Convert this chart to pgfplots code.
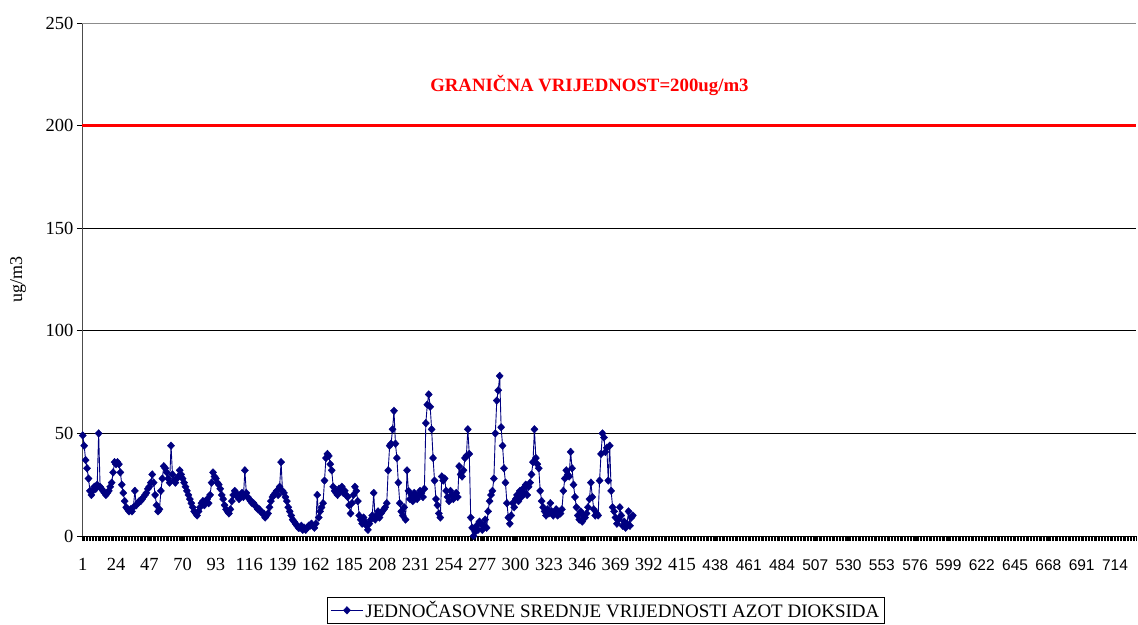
\documentclass[border=0pt]{standalone}
\usepackage{fontspec}
\setmainfont{Liberation Serif}
\newfontfamily\tickssans{Liberation Sans}
\usepackage{pgfplots}
\usepackage{pgfplotstable}
\pgfplotsset{compat=1.18}
\definecolor{navyc}{HTML}{000080}
\pgfplotstableread[row sep=\\]{
v\\
49\\44\\37\\33\\28\\22\\20\\22\\24\\23\\
25\\50\\24\\23\\22\\21\\20\\21\\22\\24\\
26\\31\\36\\35\\36\\35\\31\\25\\21\\17\\
14\\13\\12\\13\\12\\14\\22\\15\\16\\17\\
17\\18\\19\\20\\21\\23\\24\\26\\30\\26\\
20\\15\\12\\13\\22\\28\\34\\33\\31\\28\\
26\\44\\30\\27\\26\\28\\29\\32\\30\\28\\
26\\24\\22\\20\\18\\16\\14\\12\\11\\10\\
12\\14\\16\\17\\15\\17\\18\\16\\20\\26\\
31\\29\\28\\26\\25\\23\\20\\18\\15\\13\\
12\\11\\13\\17\\20\\22\\21\\19\\18\\20\\
21\\19\\32\\21\\19\\18\\17\\16\\16\\15\\
14\\13\\13\\12\\11\\11\\9\\10\\11\\14\\
17\\19\\20\\21\\22\\20\\24\\36\\22\\21\\
19\\17\\14\\12\\10\\8\\7\\6\\5\\4\\
4\\5\\3\\4\\3\\4\\5\\5\\6\\5\\
4\\6\\20\\9\\12\\14\\16\\27\\38\\40\\
39\\35\\32\\24\\22\\21\\20\\23\\22\\24\\
21\\22\\20\\19\\15\\11\\16\\20\\24\\22\\
17\\10\\8\\6\\9\\7\\5\\3\\6\\8\\
10\\21\\8\\10\\12\\9\\11\\12\\13\\14\\
16\\32\\44\\45\\52\\61\\45\\38\\26\\16\\
12\\10\\14\\8\\32\\22\\18\\20\\17\\21\\
19\\18\\20\\22\\21\\19\\23\\55\\64\\69\\
63\\52\\38\\27\\18\\15\\11\\9\\29\\27\\
28\\22\\19\\17\\22\\20\\18\\20\\21\\19\\
34\\30\\29\\32\\38\\39\\52\\40\\9\\4\\
0\\2\\5\\3\\7\\6\\3\\5\\8\\4\\
12\\17\\20\\22\\28\\50\\66\\71\\78\\53\\
44\\33\\26\\16\\9\\6\\10\\16\\14\\18\\
20\\17\\22\\19\\23\\21\\25\\20\\24\\26\\
30\\36\\52\\38\\35\\33\\22\\17\\14\\12\\
10\\13\\11\\16\\12\\10\\11\\13\\10\\12\\
11\\13\\22\\28\\32\\30\\29\\41\\33\\25\\
19\\14\\10\\8\\12\\7\\10\\9\\11\\14\\
18\\26\\19\\13\\10\\11\\10\\27\\40\\50\\
48\\41\\43\\27\\44\\22\\14\\12\\9\\6\\
8\\14\\10\\5\\7\\4\\6\\12\\5\\9\\10\\
}\data

\begin{document}
\begin{tikzpicture}
\useasboundingbox (-82pt,-88pt) rectangle (1056pt,536pt);
\begin{axis}[
  scale only axis, width=1054pt, height=513pt,
  at={(0,0)}, anchor=south west,
  xmin=0.5, xmax=728.5, ymin=0, ymax=250,
  axis x line*=bottom, axis y line*=left,
  x axis line style={black, line width=0.9pt, -},
  y axis line style={black!70, line width=0.9pt, -},
  ytick={0,50,...,250},
  xtick={1,24,...,714},
  minor xtick={0.5,1.5,...,728.5},
  tick align=outside,
  major tick length=5pt, minor tick length=5pt,
  every tick/.style={black, line width=0.8pt},
  every minor tick/.style={black, line width=0.8pt},
  ymajorgrids,
  major grid style={black, line width=0.8pt},
  /pgf/number format/assume math mode=true,
  yticklabel style={font=\fontsize{18.5}{20}\selectfont},
  xticklabel={\ifdim\tick pt<430pt\relax\fontsize{18.5}{20}\selectfont\else\tickssans\fontsize{15.5}{17}\selectfont\fi\pgfmathprintnumber{\tick}},
  xticklabel style={anchor=base, yshift=-29pt},
  ylabel={ug/m3},
  every axis y label/.style={at={(axis description cs:0,0.5)}, xshift=-64pt, rotate=90, anchor=center, font=\fontsize{18}{20}\selectfont},
  legend style={at={(axis description cs:0.5,0)}, anchor=north, yshift=-61pt, xshift=-3pt,
    draw=black, line width=0.8pt, inner xsep=3pt, inner ysep=2pt,
    font=\fontsize{19}{21}\selectfont},
  legend cell align=left,
  legend image code/.code={\draw[mark repeat=2,mark phase=2,#1] plot coordinates {(0pt,0pt) (16pt,0pt) (32pt,0pt)};},
]
\addplot[red, line width=3pt, forget plot] coordinates {(0.5,200) (728.5,200)};
\addplot[navyc, line width=0.9pt, mark=diamond*, mark size=3.8pt, mark options={fill=navyc, draw=navyc, line width=0.4pt, xscale=1.25}]
  table[x expr=\coordindex+1, y=v] {\data};
\addlegendentry{JEDNOČASOVNE SREDNJE VRIJEDNOSTI AZOT DIOKSIDA}
\node[text=red, font=\bfseries\fontsize{18.8}{20}\selectfont] at (axis cs:351,219.5) {GRANIČNA VRIJEDNOST=200ug/m3};
\draw[black!45, line width=0.8pt] (rel axis cs:0,1) -- (rel axis cs:1,1) -- (rel axis cs:1,0);
\end{axis}
\end{tikzpicture}
\end{document}
